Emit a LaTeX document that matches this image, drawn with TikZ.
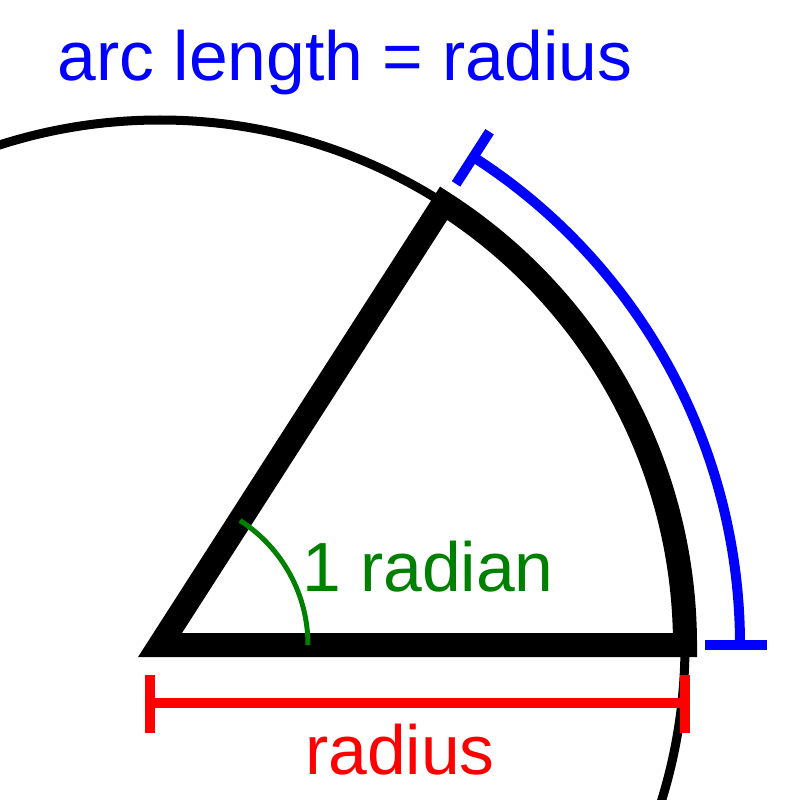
\documentclass[tikz,border=0pt]{standalone}
\usepackage{fontspec}
\setmainfont{Liberation Sans}
\definecolor{rgreen}{RGB}{0,128,0}
\begin{document}
\begin{tikzpicture}[x=0.01cm,y=-0.01cm,
thinline/.style={line width=0.09cm},
label/.style={font=\fontsize{19.8}{22}\selectfont,inner sep=0pt}]
\useasboundingbox (0,0) rectangle (800,800);
\clip (0,0) rectangle (800,800);
\coordinate (O) at (160,645);
% circle
\draw[thinline] (O) circle[radius=525];
% sector
\draw[line width=0.24cm,miter limit=10] (O) -- ++(0:525) arc[start angle=0,end angle=-57.2958,radius=525] -- cycle;
% angle
\draw[rgreen,line width=0.05cm] (O) ++(0:148) arc[start angle=0,end angle=-57.2958,radius=148];
\node[label,text=rgreen] (rad) at (428,567) {1 radian};
% arc length
\draw[blue,line width=0.1cm] (O) ++(0:580) arc[start angle=0,end angle=-57.2958,radius=580];
\draw[blue,line width=0.1cm] (O) ++(0:545) -- ++(0:62);
\draw[blue,line width=0.1cm] (O) ++(-57.2958:548) -- ++(-57.2958:62);
\node[label,text=blue] (arcl) at (345,62) {arc length = radius};
% radius
\draw[red,line width=0.1cm] (150,703) -- (685,703);
\draw[red,line width=0.1cm] (150,675) -- (150,733);
\draw[red,line width=0.1cm] (685,675) -- (685,733);
\node[label,text=red] (radl) at (400,750) {radius};
\end{tikzpicture}
\end{document}
